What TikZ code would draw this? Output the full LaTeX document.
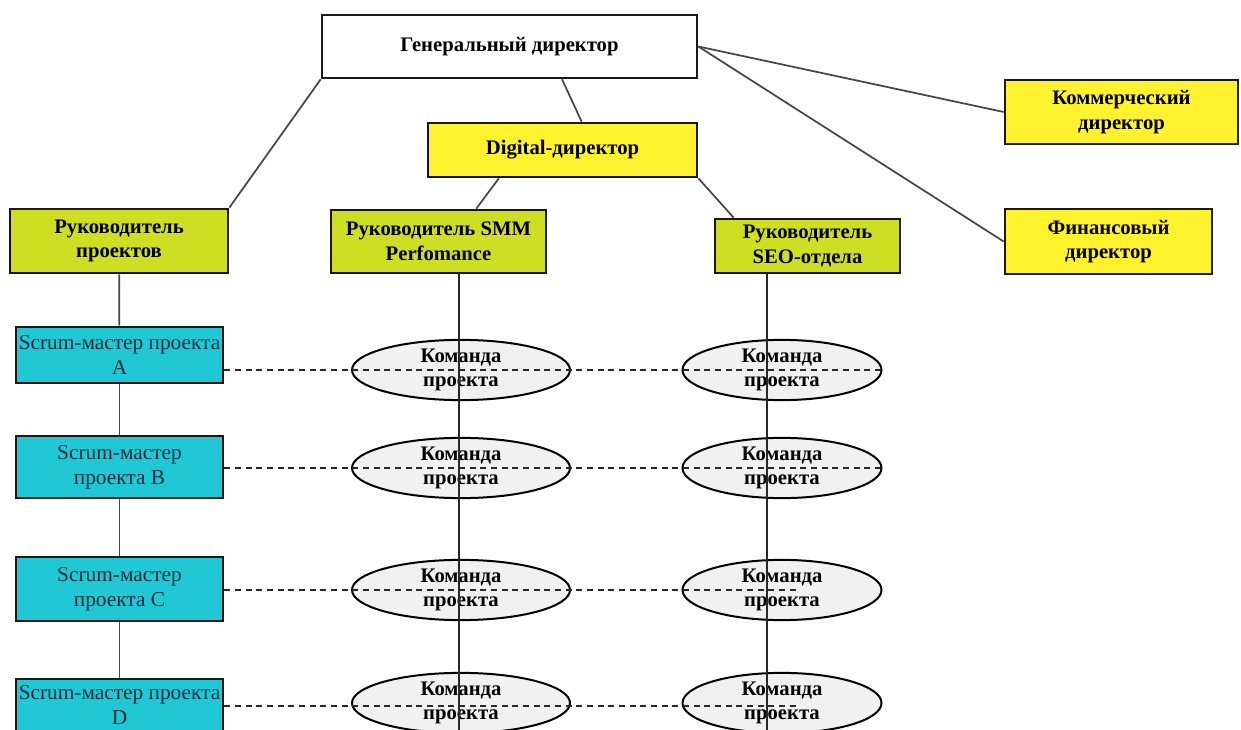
\documentclass[tikz,border=0pt]{standalone}
\usepackage{fontspec}
\setmainfont{Liberation Serif}
\usepackage{tikz}
\usetikzlibrary{positioning, shapes.geometric, calc}

\begin{document}
\begin{tikzpicture}[x=0.75pt,y=0.75pt,yscale=-1,xscale=1,
	wh/.style 2 args={minimum width=#1*0.75pt, minimum height=#2*0.75pt},
	box/.style={draw={rgb, 255:red, 25; green, 25; blue, 25 }, line width=2pt, inner sep=0pt, align=center, font=\fontsize{15.5}{18.5}\selectfont\bfseries},
	chief/.style={box, fill=white},
	boss/.style={box, fill={rgb, 255:red, 253; green, 242; blue, 45 }},
	lead/.style={box, fill={rgb, 255:red, 205; green, 222; blue, 35 }},
	scrum/.style={box, fill={rgb, 255:red, 32; green, 200; blue, 214 }, font=\fontsize{16}{18.5}\selectfont, text={rgb, 255:red, 15; green, 45; blue, 55 }},
	team/.style={ellipse, draw=black, line width=1.5pt, fill={rgb, 255:red, 241; green, 241; blue, 241 }, inner sep=0pt, align=center, font=\fontsize{15.5}{18.5}\selectfont\bfseries},
	link/.style={draw={rgb, 255:red, 70; green, 70; blue, 70 }, line width=1.3pt},
	rail/.style={draw={rgb, 255:red, 40; green, 40; blue, 40 }, line width=1.2pt},
	tie/.style={draw={rgb, 255:red, 40; green, 40; blue, 40 }, line width=1.1pt, dash pattern=on 4.5pt off 3.5pt}
	]
	\useasboundingbox (0,0) rectangle (1241,730);
	
	%Shape: Rectangle [id:top]
	\node [chief, wh={375}{63}] (gen) at (509.5,46.5) {Генеральный директор};
	\node [boss, wh={269}{54}] (digital) at (562.5,150) {Digital-директор};
	\node [boss, wh={233}{64}] (comm) at (1121.5,112) {Коммерческий\\директор};
	\node [boss, wh={207}{65}] (fin) at (1108.5,241.5) {Финансовый\\директор};
	%Shape: Rectangle [id:leads]
	\node [lead, wh={218}{64}] (pm) at (119,241) {Руководитель\\проектов};
	\node [lead, wh={215}{63}] (smm) at (438.5,241.5) {Руководитель SMM\\Perfomance};
	\node [lead, wh={185}{54}] (seo) at (807.5,246) {Руководитель\\SEO-отдела};
	%Shape: Rectangle [id:scrum]
	\node [scrum, wh={207}{56}] (scrA) at (119.5,355) {Scrum-мастер проекта\\A};
	\node [scrum, wh={207}{62}] (scrB) at (119.5,467) {Scrum-мастер\\проекта B};
	\node [scrum, wh={207}{64}] (scrC) at (119.5,589) {Scrum-мастер\\проекта C};
	\node [scrum, wh={207}{52}] (scrD) at (119.5,705) {Scrum-мастер проекта\\D};
	%Shape: Ellipse [id:teams]
	\node [team, wh={218}{58}] (tA1) at (461,370) {Команда\\проекта};
	\node [team, wh={199}{58}] (tA2) at (782,370) {Команда\\проекта};
	\node [team, wh={218}{58}] (tB1) at (461,468) {Команда\\проекта};
	\node [team, wh={199}{58}] (tB2) at (782,468) {Команда\\проекта};
	\node [team, wh={218}{58}] (tC1) at (461,590) {Команда\\проекта};
	\node [team, wh={199}{58}] (tC2) at (782,590) {Команда\\проекта};
	\node [team, wh={218}{58}] (tD1) at (461,703) {Команда\\проекта};
	\node [team, wh={199}{58}] (tD2) at (782,703) {Команда\\проекта};
	
	\coordinate (colA) at (459,735);
	\coordinate (colB) at (767,735);
	\coordinate (dC) at (798,590);
	\coordinate (dD) at (800,706);
	
	%Straight Lines [id:tree]
	\draw [link] (gen.south west) -- (pm.north east);
	\draw [link] (gen.-32) -- (digital.56);
	\draw [link] (gen.east) -- (comm.west);
	\draw [link] (gen.east) -- (fin.west);
	\draw [link] (digital.204) -- (smm.41);
	\draw [link] (digital.south east) -- (seo.159);
	%Straight Lines [id:scrum chain]
	\draw [link] (pm) -- (scrA);
	\draw [link] (scrA) -- (scrB);
	\draw [link] (scrB) -- (scrC);
	\draw [link] (scrC) -- (scrD);
	%Straight Lines [id:columns]
	\draw [rail] (smm.south -| colA) -- (colA);
	\draw [rail] (seo.south -| colB) -- (colB);
	%Straight Lines [id:dashed rows]
	\draw [tie] (scrA.east |- tA1) -- (tA2.east);
	\draw [tie] (scrB.east |- tB1) -- (tB2.east);
	\draw [tie] (scrC.east |- tC1) -- (dC);
	\draw [tie] (scrD.east |- dD) -- (dD);
\end{tikzpicture}
\end{document}
